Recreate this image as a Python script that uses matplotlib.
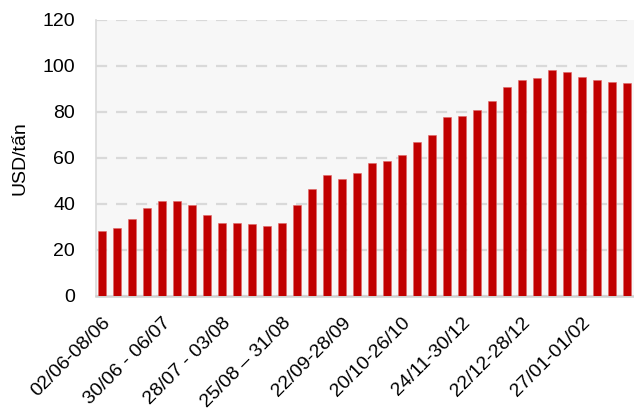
import numpy as np
import matplotlib
matplotlib.use("Agg")
import matplotlib.pyplot as plt

plt.rcParams['font.family'] = ['Liberation Sans', 'DejaVu Sans']

# weekly prices, USD/tan
values = [28.1, 29.4, 33.3, 38.1, 41.3, 41.2, 39.4, 35.2, 31.6, 31.6,
          31.2, 30.4, 31.7, 39.4, 46.4, 52.5, 50.9, 53.3, 57.7, 58.7,
          61.2, 67.0, 69.9, 77.7, 78.4, 80.7, 84.8, 90.9, 93.9, 94.8,
          98.1, 97.4, 95.2, 93.8, 93.0, 92.6]
tick_labels = ['02/06-08/06', '30/06 - 06/07', '28/07 - 03/08', '25/08 \u2013 31/08',
               '22/09-28/09', '20/10-26/10', '24/11-30/12', '22/12-28/12', '27/01-01/02']
yticks = [0, 20, 40, 60, 80, 100, 120]

x = np.arange(len(values))

fig = plt.figure(figsize=(6.34, 4.13), dpi=100)
ax = fig.add_axes([96/634, 117/413, 538.5/634, 276/413])
ax.set_facecolor('#f7f7f7')

ax.bar(x, values, width=0.47, color='#c00000', edgecolor='#e06666', linewidth=0.4, zorder=3)

ax.set_xlim(-0.4, len(values) - 0.5)
ax.set_ylim(0, 120)
ax.set_yticks(yticks)
ax.yaxis.grid(True, color='#d9d9d9', linestyle=(0, (5, 4)), linewidth=1.6, zorder=0)
ax.set_axisbelow(True)

ax.set_xticks(x[::4])
ax.set_xticklabels(tick_labels, rotation=45, ha='right', va='top', rotation_mode='anchor')
ax.tick_params(axis='x', length=0, pad=13, labelsize=14)
ax.tick_params(axis='y', length=0, pad=15, labelsize=14)
ax.set_ylabel('USD/tấn', fontsize=14, labelpad=10)

for side in ['top', 'right']:
    ax.spines[side].set_visible(False)
ax.spines['left'].set_color('#d9d9d9')
ax.spines['left'].set_linewidth(1.2)
ax.spines['bottom'].set_color('#d0d0d0')
ax.spines['bottom'].set_linewidth(1.8)

fig.savefig('out.png', dpi=100)
